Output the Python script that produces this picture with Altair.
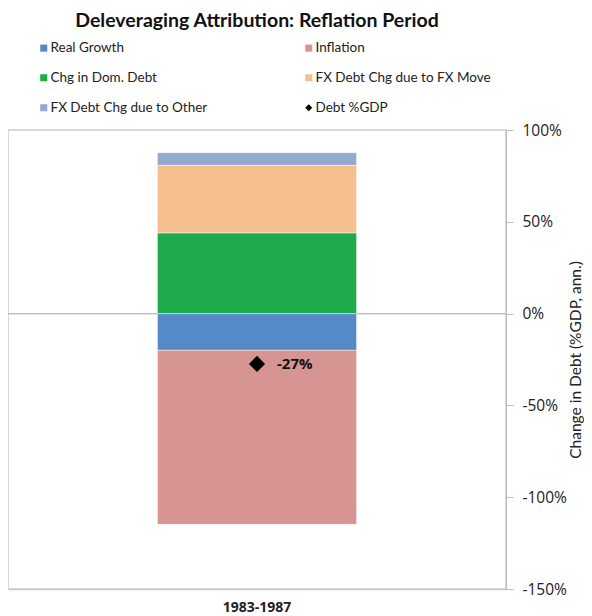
import altair as alt
import pandas as pd

period = ["1983-1987"]
series = ["Real Growth", "Inflation", "Chg in Dom. Debt",
          "FX Debt Chg due to FX Move", "FX Debt Chg due to Other"]
values = [-0.200, -0.948, 0.440, 0.3675, 0.069]
colors = ["#5589C7", "#D69493", "#1FAA4B", "#F6BF90", "#92A9D0"]
debt_name = "Debt %GDP"
debt_value = [-0.274]
y_ticks = [-1.5, -1.0, -0.5, 0.0, 0.5, 1.0]

legend_domain = series + [debt_name]
legend_colors = colors + ["#000000"]
legend_shapes = ["square"] * 5 + ["diamond"]

bars_df = pd.DataFrame({
    "period": period * len(series),
    "series": series,
    "value": values,
    "order": list(range(len(series))),
})
debt_df = pd.DataFrame({"period": period, "series": [debt_name], "value": debt_value})

FONT = "Open Sans"
LFONT = "Lato"
color_scale = alt.Scale(domain=legend_domain, range=legend_colors)
shape_scale = alt.Scale(domain=legend_domain, range=legend_shapes)
pct_expr = "replace(format(datum.value, '.0%'), '\u2212', '-')"


def make_legend():
    return alt.Legend(
        title=None, orient="none", legendX=29, legendY=-89, columns=2, direction="horizontal",
        columnPadding=76, rowPadding=15, symbolSize=50, symbolStrokeWidth=0,
        labelFontSize=13.5, labelFont=LFONT, labelColor="#222222", labelOffset=0,
        labelLimit=400, gridAlign="all",
    )


x_enc = alt.X(
    "period:N", title=None,
    scale=alt.Scale(paddingInner=0, paddingOuter=0.75),
    axis=alt.Axis(labelAngle=0, ticks=False, labelFontWeight="bold", labelFontSize=14,
                  labelFont=FONT, labelColor="#222222", labelPadding=11,
                  domainColor="#cccccc", domainWidth=1.5),
)
y_scale = alt.Scale(domain=[-1.5, 1.0], nice=False)
y_axis = alt.Axis(orient="right", values=y_ticks, grid=False, labelExpr=pct_expr,
                  title="Change in Debt (%GDP, ann.)", titleFont=LFONT, titleFontSize=15.5,
                  titleFontWeight="normal", titleColor="#222222", titlePadding=17,
                  titleAngle=270,
                  labelFont=FONT, labelFontSize=15.5, labelColor="#222222", labelPadding=9,
                  tickSize=7, tickColor="#bbbbbb", domainColor="#bbbbbb")

zero = alt.Chart(bars_df).mark_rule(color="#bdbdbd", strokeWidth=1).encode(y=alt.datum(0))

bars = alt.Chart(bars_df).mark_bar(stroke="white", strokeWidth=0.5).encode(
    x=x_enc,
    y=alt.Y("value:Q", stack="zero", scale=y_scale, axis=y_axis),
    color=alt.Color("series:N", scale=color_scale, legend=make_legend()),
    order=alt.Order("order:Q"),
)

points = alt.Chart(debt_df).mark_point(filled=True, size=260, opacity=1).encode(
    x=x_enc,
    y=alt.Y("value:Q", scale=y_scale, axis=y_axis),
    color=alt.Color("series:N", scale=color_scale, legend=make_legend()),
    shape=alt.Shape("series:N", scale=shape_scale, legend=make_legend()),
)

labels = alt.Chart(debt_df).transform_calculate(
    label=pct_expr
).mark_text(
    align="left", baseline="middle", dx=20, fontWeight="bold", fontSize=15, font=FONT,
    color="#111111",
).encode(
    x=x_enc,
    y=alt.Y("value:Q", scale=y_scale, axis=y_axis),
    text="label:N",
)

chart = alt.layer(zero, bars, points, labels).properties(
    width=498, height=459,
    autosize=alt.AutoSizeParams(type="none"),
    padding={"left": 0, "top": 122, "right": 78, "bottom": 26},
    title=alt.TitleParams(
        "Deleveraging Attribution: Reflation Period",
        font=LFONT, fontSize=19.5, fontWeight="bold", color="#111111",
        anchor="middle", frame="group", offset=10,
    ),
).configure_view(stroke="#cccccc", strokeWidth=1.5)

chart.save("out.html", embed_options={"renderer": "svg", "actions": False})
